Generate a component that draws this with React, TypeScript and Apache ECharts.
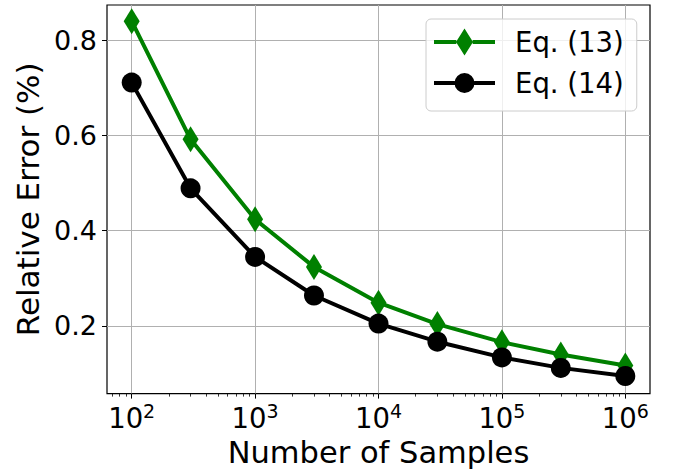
import React, { useEffect, useRef } from "react";
import * as echarts from "echarts";

const samples = [100, 300, 1000, 3000, 10000, 30000, 100000, 300000, 1000000];
const eq13 = [0.84, 0.592, 0.424, 0.324, 0.249, 0.204, 0.166, 0.14, 0.117];
const eq14 = [0.711, 0.489, 0.345, 0.264, 0.205, 0.167, 0.134, 0.112, 0.095];
const xMajorTicks = [100, 1000, 10000, 100000, 1000000];
const xMinorTicks = [
  70, 80, 90,
  200, 300, 400, 500, 600, 700, 800, 900,
  2000, 3000, 4000, 5000, 6000, 7000, 8000, 9000,
  20000, 30000, 40000, 50000, 60000, 70000, 80000, 90000,
  200000, 300000, 400000, 500000, 600000, 700000, 800000, 900000,
];
const yTicks = [0.2, 0.4, 0.6, 0.8];
const seriesNames = ["Eq. (13)", "Eq. (14)"];

const FONT = "DejaVu Sans";
const GREEN = "#008000";

const diamondIcon =
  "path://M0,11.5 L22.3,11.5 L22.3,15.5 L0,15.5 Z M38.7,11.5 L61,11.5 L61,15.5 L38.7,15.5 Z M30.5,0 L39,13.5 L30.5,27 L22,13.5 Z";
const circleIcon =
  "path://M0,11.5 L20.8,11.5 L20.8,15.5 L0,15.5 Z M40.2,11.5 L61,11.5 L61,15.5 L40.2,15.5 Z M20.5,13.5 A10,10 0 1,1 40.5,13.5 A10,10 0 1,1 20.5,13.5 Z";

export default function App() {
  const ref = useRef<HTMLDivElement>(null);
  useEffect(() => {
    document.body.style.margin = "0";
    const chart = echarts.init(ref.current!, null, { renderer: "svg" });
    const xmin = Math.pow(10, 1.8);
    const xmax = Math.pow(10, 6.2);
    chart.setOption({
      animation: false,
      backgroundColor: "#ffffff",
      textStyle: { fontFamily: FONT },
      grid: {
        left: 107,
        top: 5,
        right: 28,
        bottom: 78,
        show: true,
        borderColor: "#000",
        borderWidth: 1.2,
        backgroundColor: "transparent",
      },
      legend: {
        orient: "vertical",
        left: 426,
        top: 19,
        itemWidth: 61,
        itemHeight: 27,
        itemGap: 13,
        padding: [9, 13, 14, 8],
        backgroundColor: "rgba(255,255,255,0.8)",
        borderColor: "#cccccc",
        borderWidth: 1,
        borderRadius: 5,
        textStyle: {
          fontFamily: FONT,
          fontSize: 27.5,
          color: "#000",
          padding: [0, 0, 0, 15],
        },
        data: [
          { name: seriesNames[0], icon: diamondIcon, itemStyle: { color: GREEN } },
          { name: seriesNames[1], icon: circleIcon, itemStyle: { color: "#000" } },
        ],
      },
      xAxis: [
        {
          type: "log",
          min: xmin,
          max: xmax,
          name: "Number of Samples",
          nameLocation: "middle",
          nameGap: 40,
          nameTextStyle: { fontFamily: FONT, fontSize: 30.5, color: "#000" },
          axisLine: { show: false },
          axisTick: {
            show: true,
            inside: false,
            length: 5,
            lineStyle: { color: "#000", width: 1 },
            customValues: xMajorTicks,
          },
          axisLabel: {
            show: true,
            margin: 8,
            customValues: xMajorTicks,
            formatter: (v: number) => {
              const e = Math.round(Math.log10(v));
              return `{b|10}{s|${e}}`;
            },
            rich: {
              b: { fontFamily: FONT, fontSize: 27.5, color: "#000" },
              s: { fontFamily: FONT, fontSize: 19, color: "#000", padding: [0, 0, 14, 0] },
            },
          },
          splitLine: { show: true, lineStyle: { color: "#b0b0b0", width: 1 } },
        },
        {
          type: "log",
          min: xmin,
          max: xmax,
          position: "bottom",
          axisLine: { show: false },
          axisTick: {
            show: true,
            inside: false,
            length: 3,
            lineStyle: { color: "#000", width: 0.8 },
            customValues: xMinorTicks,
          },
          axisLabel: { show: false },
          splitLine: { show: false },
        },
      ],
      yAxis: {
        type: "value",
        min: 0.058,
        max: 0.874,
        name: "Relative Error (%)",
        nameLocation: "middle",
        nameRotate: 90,
        nameGap: 62,
        nameTextStyle: { fontFamily: FONT, fontSize: 31, color: "#000" },
        axisLine: { show: false },
        axisTick: {
          show: true,
          inside: false,
          length: 5,
          lineStyle: { color: "#000", width: 1 },
          customValues: yTicks,
        },
        axisLabel: {
          show: true,
          margin: 10,
          fontFamily: FONT,
          fontSize: 27,
          color: "#000",
          customValues: yTicks,
          formatter: (v: number) => v.toFixed(1),
        },
        splitLine: { show: true, lineStyle: { color: "#b0b0b0", width: 1 } },
      },
      series: [
        {
          name: seriesNames[0],
          type: "line",
          data: samples.map((s, i) => [s, eq13[i]]),
          symbol: "diamond",
          symbolSize: [16, 26],
          color: GREEN,
          itemStyle: { color: GREEN },
          lineStyle: { color: GREEN, width: 4 },
          z: 2,
        },
        {
          name: seriesNames[1],
          type: "line",
          data: samples.map((s, i) => [s, eq14[i]]),
          symbol: "circle",
          symbolSize: 20,
          color: "#000",
          itemStyle: { color: "#000" },
          lineStyle: { color: "#000", width: 4 },
          z: 3,
        },
      ],
    });
    return () => chart.dispose();
  }, []);
  return <div ref={ref} style={{ width: 678, height: 473 }} />;
}
